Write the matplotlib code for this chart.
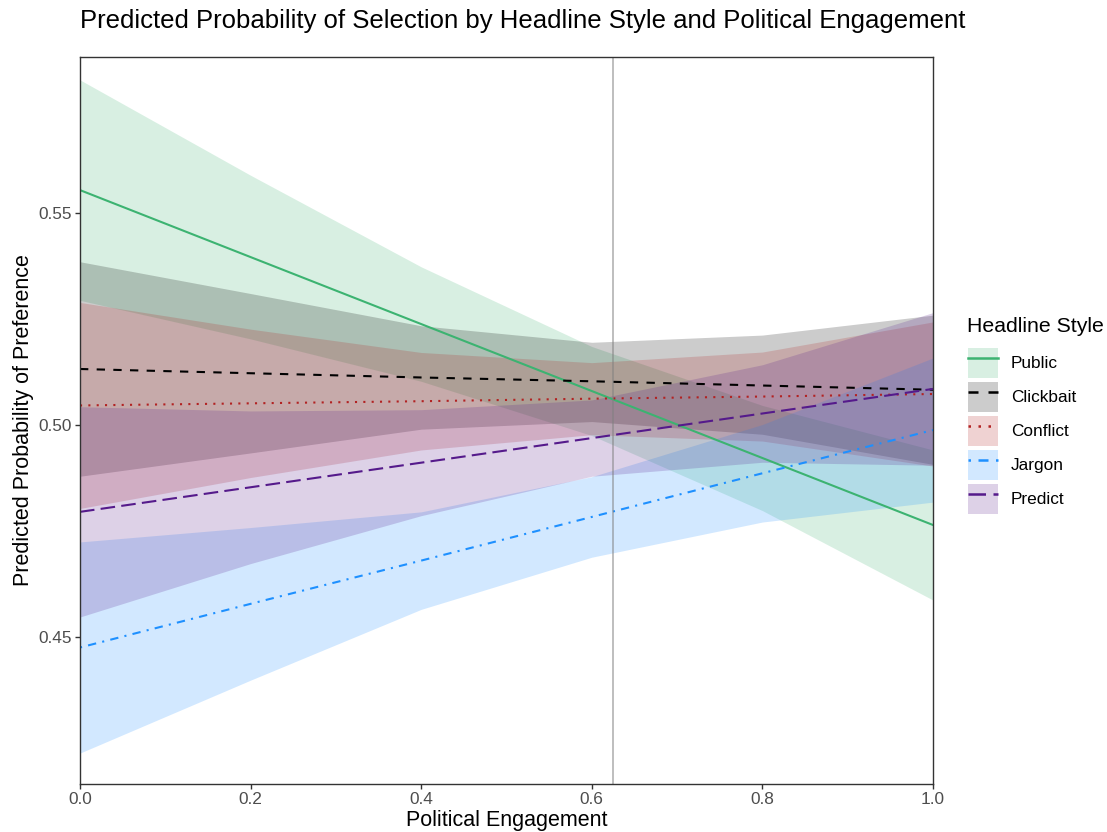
import matplotlib
matplotlib.use("Agg")
import matplotlib.pyplot as plt
from matplotlib.patches import Patch
from matplotlib.lines import Line2D
from matplotlib.legend_handler import HandlerTuple

plt.rcParams['font.family'] = ['Liberation Sans', 'DejaVu Sans']

engagement = [0.0, 0.2, 0.4, 0.6, 0.8, 1.0]

styles = ["Public", "Clickbait", "Conflict", "Jargon", "Predict"]

public_mean = [0.5554, 0.5396, 0.5238, 0.5080, 0.4922, 0.4764]
public_low = [0.5294, 0.5203, 0.5103, 0.4975, 0.4798, 0.4587]
public_high = [0.5814, 0.5589, 0.5373, 0.5185, 0.5046, 0.4941]

clickbait_mean = [0.5132, 0.5122, 0.5112, 0.5103, 0.5093, 0.5083]
clickbait_low = [0.4879, 0.4934, 0.4990, 0.5008, 0.4978, 0.4907]
clickbait_high = [0.5385, 0.5310, 0.5234, 0.5195, 0.5212, 0.5259]

conflict_mean = [0.5046, 0.5051, 0.5056, 0.5062, 0.5067, 0.5073]
conflict_low = [0.4803, 0.4876, 0.4941, 0.4977, 0.4962, 0.4903]
conflict_high = [0.5289, 0.5226, 0.5171, 0.5147, 0.5172, 0.5243]

jargon_mean = [0.4475, 0.4578, 0.4680, 0.4783, 0.4886, 0.4988]
jargon_low = [0.4226, 0.4398, 0.4565, 0.4688, 0.4771, 0.4818]
jargon_high = [0.4724, 0.4758, 0.4795, 0.4878, 0.5001, 0.5158]

predict_mean = [0.4795, 0.4853, 0.4911, 0.4969, 0.5027, 0.5085]
predict_low = [0.4547, 0.4673, 0.4786, 0.4879, 0.4912, 0.4905]
predict_high = [0.5043, 0.5033, 0.5036, 0.5059, 0.5142, 0.5265]

mean_engagement = 0.625

means = [public_mean, clickbait_mean, conflict_mean, jargon_mean, predict_mean]
lows = [public_low, clickbait_low, conflict_low, jargon_low, predict_low]
highs = [public_high, clickbait_high, conflict_high, jargon_high, predict_high]

colors = ["#3CB371", "#000000", "#B22222", "#1E90FF", "#551A8B"]
dashes = [None, (4, 4), (1, 3), (1, 3, 4, 3), (7, 3)]

fig = plt.figure(figsize=(11.07, 8.32), dpi=100)
ax = fig.add_axes([80/1107, 48/832, 853/1107, 727/832])

handles = []
for i in range(len(styles)):
    ax.fill_between(engagement, lows[i], highs[i], color=colors[i], alpha=0.2, linewidth=0)
for i in range(len(styles)):
    line, = ax.plot(engagement, means[i], color=colors[i], lw=1.5)
    if dashes[i] is not None:
        line.set_dashes(dashes[i])
    patch = Patch(facecolor=colors[i], alpha=0.2, edgecolor='none')
    key = Line2D([0], [0], color=colors[i], lw=1.8)
    if dashes[i] is not None:
        key.set_dashes(dashes[i])
    handles.append((patch, key))

ax.axvline(mean_engagement, color="gray", alpha=0.6, lw=1.2)

ax.set_xlim(0, 1)
ax.set_ylim(0.4153, 0.5868)
ax.set_xticks([0, 0.2, 0.4, 0.6, 0.8, 1.0])
ax.set_xticklabels(["0.0", "0.2", "0.4", "0.6", "0.8", "1.0"])
ax.set_yticks([0.45, 0.50, 0.55])
ax.set_yticklabels(["0.45", "0.50", "0.55"])
ax.tick_params(colors="#333333", labelcolor="#4D4D4D", labelsize=12.4, length=3.5, width=1, pad=2.5)
for s in ax.spines.values():
    s.set_color("#333333")
    s.set_linewidth(1)

ax.set_xlabel("Political Engagement", fontsize=15.5, labelpad=2)
ax.set_ylabel("Predicted Probability of Preference", fontsize=15.5, labelpad=3)
fig.text(80/1107, 1 - 21/832, "Predicted Probability of Selection by Headline Style and Political Engagement",
         fontsize=18.5, ha="left", va="center")

# legend title placed on its own so the gap to the keys matches
fig.text(967/1107, 1 - 327/832, "Headline Style", fontsize=15.3, ha="left", va="center")
leg = fig.legend(handles, styles, handler_map={tuple: HandlerTuple(ndivide=1, pad=0)},
                 loc="upper left", bbox_to_anchor=(961/1107, 1 - 341/832), frameon=False,
                 fontsize=12.4, handlelength=1.75, handleheight=2.32, labelspacing=0.22,
                 handletextpad=0.75, borderaxespad=0)

fig.savefig("out.png", dpi=100)
